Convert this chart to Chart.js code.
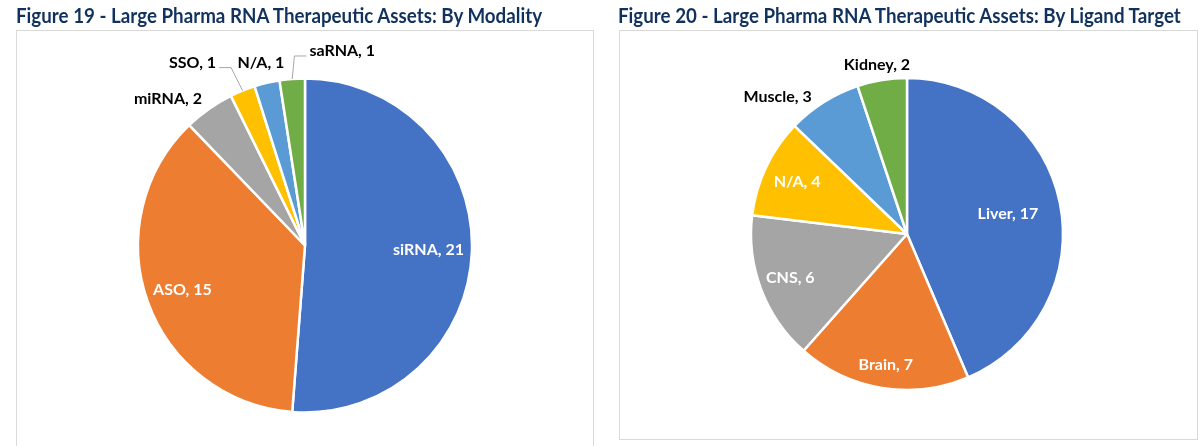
<!DOCTYPE html>
<html>
<head>
<meta charset="utf-8">
<script src="https://cdn.jsdelivr.net/npm/chart.js@4.4.1/dist/chart.umd.min.js"></script>
<style>
  html, body { margin: 0; padding: 0; background: #fff; width: 1200px; height: 446px; overflow: hidden; }
  .title { position: absolute; top: 3px; font-family: Lato, sans-serif; font-weight: 700; font-size: 20.5px; color: #12325e; white-space: nowrap; z-index: 2; transform: scaleX(0.915); transform-origin: left top; }
  .box { position: absolute; border: 1px solid #d9d9d9; box-sizing: border-box; }
  canvas { position: absolute; }
</style>
</head>
<body>
<div class="title" style="left:16px">Figure 19 - Large Pharma RNA Therapeutic Assets: By Modality</div>
<div class="title" style="left:618px">Figure 20 - Large Pharma RNA Therapeutic Assets: By Ligand Target</div>
<div class="box" style="left:16px; top:30px; width:578px; height:430px;"></div>
<div class="box" style="left:619px; top:30px; width:579px; height:410px;"></div>
<canvas id="grafico1" width="610" height="491" style="left:0; top:0;"></canvas>
<canvas id="grafico2" width="580" height="468" style="left:617px; top:0;"></canvas>
<script>
var cores = ['#4472C4', '#ED7D31', '#A5A5A5', '#FFC000', '#5B9BD5', '#70AD47'];

var modalidades = ['siRNA', 'ASO', 'miRNA', 'SSO', 'N/A', 'saRNA'];
var ativosModalidade = [21, 15, 2, 1, 1, 1];

var alvos = ['Liver', 'Brain', 'CNS', 'N/A', 'Muscle', 'Kidney'];
var ativosAlvo = [17, 7, 6, 4, 3, 2];

// label placement: inside -> fraction of radius; outside -> offset from the arc edge
var posModalidade = [
    { dentro: 0.74 },
    { dentro: 0.78 },
    { fora: [-41, -10] },
    { fora: [-50, -28], linha: 'direita' },
    { fora: [-6, -20] },
    { fora: [50, -28], linha: 'esquerda' }
];
var posAlvo = [
    { dentro: 0.66 },
    { dentro: 0.85 },
    { dentro: 0.80 },
    { dentro: 0.78 },
    { fora: [-46, -5] },
    { fora: [-5, -15] }
];

var rotulos = {
    id: 'rotulos',
    afterDatasetsDraw: function (chart, args, opts) {
        var c = chart.ctx;
        var meta = chart.getDatasetMeta(0);
        var labels = chart.data.labels;
        var valores = chart.data.datasets[0].data;
        c.save();
        c.font = 'bold 16px Lato, "Liberation Sans", sans-serif';
        c.textAlign = 'center';
        c.textBaseline = 'middle';
        meta.data.forEach(function (arc, i) {
            var p = opts.pos[i];
            var meio = (arc.startAngle + arc.endAngle) / 2;
            var texto = labels[i] + ', ' + valores[i];
            if (p.dentro) {
                var r = arc.outerRadius * p.dentro;
                c.fillStyle = '#fff';
                c.fillText(texto, arc.x + Math.cos(meio) * r, arc.y + Math.sin(meio) * r);
            } else {
                var ex = arc.x + Math.cos(meio) * arc.outerRadius;
                var ey = arc.y + Math.sin(meio) * arc.outerRadius;
                var lx = ex + p.fora[0];
                var ly = ey + p.fora[1];
                var w = c.measureText(texto).width;
                if (p.linha) {
                    var lado = p.linha === 'direita' ? 1 : -1;
                    var fimX = lx + lado * (w / 2 + 3);
                    c.strokeStyle = '#a6a6a6';
                    c.lineWidth = 1;
                    c.beginPath();
                    c.moveTo(ex, ey);
                    c.lineTo(fimX + lado * 12, ly + 5);
                    c.lineTo(fimX, ly + 5);
                    c.stroke();
                }
                c.fillStyle = '#000';
                c.fillText(texto, lx, ly);
            }
        });
        c.restore();
    }
};

function pizza(id, labels, data, raio, pos) {
    return new Chart(document.getElementById(id), {
        type: 'pie',
        data: {
            labels: labels,
            datasets: [{
                data: data,
                backgroundColor: cores,
                borderColor: '#fff',
                borderWidth: 2.5
            }]
        },
        options: {
            responsive: false,
            animation: false,
            radius: raio,
            layout: { padding: 0 },
            plugins: {
                legend: { display: false },
                tooltip: { enabled: false },
                rotulos: { pos: pos }
            }
        },
        plugins: [rotulos]
    });
}

pizza('grafico1', modalidades, ativosModalidade, 167, posModalidade);
pizza('grafico2', alvos, ativosAlvo, 156, posAlvo);
</script>
</body>
</html>
